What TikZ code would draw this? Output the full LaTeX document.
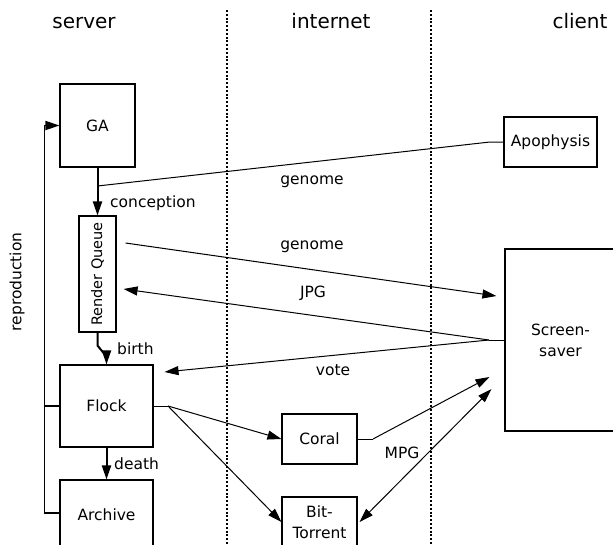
\documentclass[tikz,border=0pt]{standalone}
\usepackage{fontspec}
\setmainfont{DejaVu Sans}
\usetikzlibrary{arrows.meta,calc}
\newcommand\lblfont{\fontsize{15.5pt}{21pt}\selectfont}
\newcommand\ttlfont{\fontsize{20pt}{24pt}\selectfont}
\begin{document}
\begin{tikzpicture}[x=1pt,y=-1pt,
  box/.style={draw, line width=1.1pt, inner sep=0pt, align=center, font=\lblfont},
  lbl/.style={inner sep=0pt, font=\lblfont},
  ttl/.style={inner sep=0pt, font=\ttlfont, anchor=base},
  tip/.tip={Triangle[length=14pt,width=9pt]},
  diag/.style={line width=1pt},
  varrow/.style={line width=2pt, -tip},
  repro/.style={line width=1.8pt},
  sep/.style={line width=1.6pt, dash pattern=on 2pt off 1.8pt}]
\useasboundingbox (0,0) rectangle (613,544);
% column separators
\coordinate (s1t) at (227,10); \coordinate (s1b) at (227,544);
\coordinate (s2t) at (431,10); \coordinate (s2b) at (431,544);
\draw[sep] (s1t) -- (s1b);
\draw[sep] (s2t) -- (s2b);
% titles
\node[ttl] (tserver) at (84,28) {server};
\node[ttl] (tinternet) at (331,28) {internet};
\node[ttl] (tclient) at (580,28) {client};
% boxes
\node[box, minimum width=75pt, minimum height=83pt] (ga) at (97.5,125.5) {GA};
\node[box, minimum width=37pt, minimum height=116pt] (rq) at (97.5,274)
  {\rotatebox{90}{\fontsize{14.5pt}{17pt}\selectfont Render Queue}};
\node[box, minimum width=93pt, minimum height=82pt] (flock) at (106.5,406) {Flock};
\node[box, minimum width=93pt, minimum height=70pt] (archive) at (106.5,515) {Archive};
\node[box, minimum width=75pt, minimum height=50pt] (coral) at (319.5,439) {Coral};
\node[box, minimum width=75pt, minimum height=50pt] (bt) at (319.5,522) {Bit-\\Torrent};
\node[box, minimum width=93pt, minimum height=50pt] (apo) at (550.5,142) {Apophysis};
\node[box, minimum width=111pt, minimum height=182pt] (ss) at (560.5,340) {Screen-\\saver};
% junction points
\coordinate (gaj) at (97.5,186);
\coordinate (apj) at (490,142);
\coordinate (ssj) at (489,340);
\coordinate (flj) at (168,406);
\coordinate (coj) at (373,439);
% connectors
\draw[varrow] (ga.south) -- (rq.north);
\draw[diag] (gaj) -- (apj) -- (apo.west);
\draw[diag,-tip] ($(rq.east)+(9,-31)$) -- ($(ss.west)+(-8,-44)$);
\draw[diag] (ss.west) -- (ssj);
\draw[diag,-tip] (ssj) -- ($(rq.east)+(7,15)$);
\draw[diag,-tip] (ssj) -- ($(flock.east)+(11,-34)$);
\draw[varrow] (rq.south) -- ++(0,13) -- ++(9,11) -- (flock.north);
\draw[varrow] (flock.south) -- (archive.north);
\draw[diag] (flock.east) -- (flj);
\draw[diag,-tip] (flj) -- (coral.west);
\draw[diag,-tip] (flj) -- (bt.west);
\draw[diag] (coral.east) -- (coj);
\draw[diag,-tip] (coj) -- ($(ss.west)+(-15,37)$);
\draw[diag,tip-tip] ($(bt.east)+(2,0)$) -- ($(ss.west)+(-13,49)$);
\draw[repro,-tip] ($(archive.west)+(0,-2)$) -- ++(-15,0) |- (ga.west);
\draw[repro] (flock.west) -- ++(-15,0);
% labels
\node[lbl, anchor=west] (lconc) at (110,203) {conception};
\node[lbl] (lgen1) at (312,182) {genome};
\node[lbl] (lgen2) at (312,247) {genome};
\node[lbl] (ljpg) at (313,293) {JPG};
\node[lbl] (lvote) at (333,370) {vote};
\node[lbl, anchor=west] (lbirth) at (117,349) {birth};
\node[lbl, anchor=west] (ldeath) at (114,464) {death};
\node[lbl] (lmpg) at (402,453) {MPG};
\node[lbl, rotate=90] (lrepro) at (17,282) {reproduction};
\end{tikzpicture}
\end{document}
